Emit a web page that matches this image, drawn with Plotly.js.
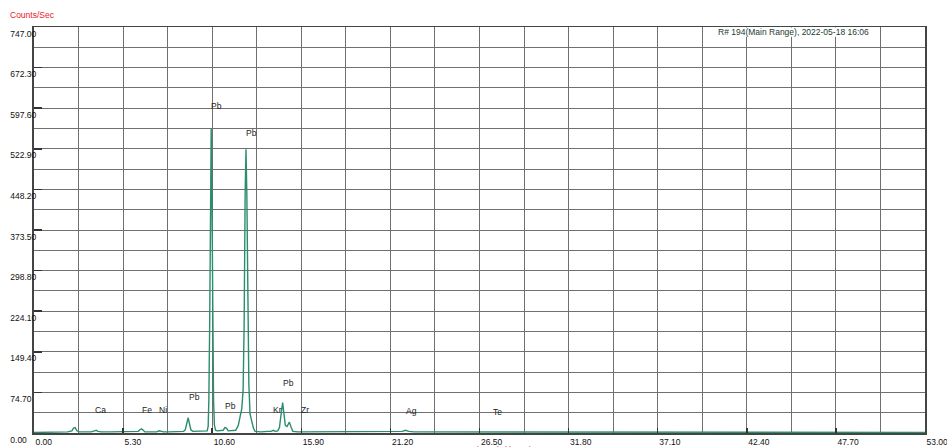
<!DOCTYPE html>
<html>
<head>
<meta charset="utf-8">
<script src="https://cdn.plot.ly/plotly-3.0.1.min.js"></script>
<style>html,body{margin:0;padding:0;background:#fff;}#chart{width:947px;height:447px;}</style>
</head>
<body>
<div id="chart"></div>
<script>
// Spectrum: energy (keV) and intensity (counts/sec)
const energy = [0, 0.5, 1.0, 1.5, 2.0, 2.25, 2.35, 2.45, 2.55, 2.7, 3.0, 3.4, 3.6, 3.7, 3.8, 4.0, 4.5, 5.0, 5.5, 5.9,
  6.2, 6.3, 6.4, 6.5, 6.6, 7.0, 7.3, 7.45, 7.55, 7.7, 8.0, 8.5, 8.9, 9.0, 9.08, 9.17, 9.25, 9.33, 9.45, 9.8,
  10.1, 10.3, 10.36, 10.40, 10.45, 10.50, 10.54, 10.58, 10.63, 10.68, 10.73, 10.80, 10.9, 11.1, 11.25, 11.35, 11.45, 11.55, 11.8,
  12.0, 12.15, 12.28, 12.36, 12.44, 12.50, 12.56, 12.61, 12.66, 12.72, 12.78, 12.85, 12.95, 13.05, 13.15, 13.5, 13.9,
  14.1, 14.24, 14.35, 14.5, 14.6, 14.7, 14.79, 14.87, 14.95, 15.05, 15.19, 15.3, 15.4, 15.7,
  16.5, 17.5, 18.5, 19.5, 20.5, 21.5, 21.9, 22.1, 22.3, 22.6, 23.5, 24.5, 25.5, 27.0, 28.5, 30, 31.5, 33, 35, 38, 41, 44, 47, 50, 53];
const counts = [1, 1, 2, 2, 2, 4, 9, 10, 4, 2, 2, 2, 4, 5, 3, 2, 2, 2, 2, 2,
  3, 6, 7.5, 5, 2, 2, 2, 4, 3, 2, 2, 2, 3, 6, 15, 28, 17, 6, 3, 3,
  3, 4, 12, 60, 200, 450, 560, 450, 200, 60, 15, 5, 4, 4, 5, 10, 9, 4, 4,
  5, 14, 38, 45, 80, 200, 440, 522, 440, 220, 90, 35, 22, 9, 3, 2, 3,
  3, 5, 3, 4, 10, 35, 56, 35, 14, 12, 20, 10, 3, 2,
  2, 2, 2, 2, 2, 2, 3, 5, 3, 2, 2, 2, 2, 2, 2, 2, 2, 2, 2, 1, 1, 1, 1, 1, 1];

// Element labels
const peakNames = ["Ca", "Fe", "Ni", "Pb", "Pb", "Pb", "Pb", "Kr", "Pb", "Zr", "Ag", "Te"];
const peakLabelX = [3.96, 6.70, 7.69, 9.54, 10.87, 11.70, 12.95, 14.49, 15.11, 16.12, 22.45, 27.57];
const peakLabelY = [42, 42, 42, 67, 602, 49, 552, 43, 92, 42, 40, 39];

// Ticks
const xTickVals = [0, 5.3, 10.6, 15.9, 21.2, 26.5, 31.8, 37.1, 42.4, 47.7, 53];
const xTickText = ["0.00", "5.30", "10.60", "15.90", "21.20", "26.50", "31.80", "37.10", "42.40", "47.70", "53.00"];
const yTickVals = [0, 74.7, 149.4, 224.1, 298.8, 373.5, 448.2, 522.9, 597.6, 672.3, 747];
const yTickText = ["0.00", "74.70", "149.40", "224.10", "298.80", "373.50", "448.20", "522.90", "597.60", "672.30", "747.00"];

const yTitle = "Counts/Sec";
const xTitle = "(\u2014\u2014 keV \u2014\u2014)";
const headerText = "R# 194(Main Range), 2022-05-18 16:06";

const FONT = "Liberation Sans, Arial, sans-serif";

const trace = {
  x: energy, y: counts, type: "scatter", mode: "lines",
  line: {color: "#2b8c6e", width: 1.4},
  hoverinfo: "skip"
};

const annotations = peakNames.map((t, i) => ({
  x: peakLabelX[i], y: peakLabelY[i], xref: "x", yref: "y",
  text: t, showarrow: false,
  font: {family: FONT, size: 8.5, color: "#222"}
}));

annotations.push({
  xref: "paper", yref: "paper", x: -0.029, y: 1.029, xanchor: "left", yanchor: "middle",
  text: yTitle, showarrow: false, font: {family: FONT, size: 8.5, color: "#e8202a"}
});
annotations.push({
  xref: "paper", yref: "paper", x: 0.528, y: -0.039, xanchor: "center", yanchor: "middle",
  text: xTitle, showarrow: false, font: {family: FONT, size: 8, color: "#e8202a"}
});
annotations.push({
  xref: "paper", yref: "paper", x: 0.852, y: 0.988, xanchor: "center", yanchor: "middle",
  text: headerText, showarrow: false, font: {family: FONT, size: 8.5, color: "#1d3a30"}
});

const layout = {
  width: 947, height: 447,
  margin: {l: 34, r: 22, t: 27, b: 14, pad: 0},
  paper_bgcolor: "#fff", plot_bgcolor: "#fff",
  showlegend: false,
  font: {family: FONT, size: 8.5, color: "#111"},
  xaxis: {
    range: [0, 53], tickmode: "array", tickvals: xTickVals, ticktext: xTickText,
    showgrid: true, gridcolor: "#707070", gridwidth: 1,
    minor: {tickmode: "linear", tick0: 0, dtick: 2.65, showgrid: true, gridcolor: "#707070", gridwidth: 1, ticks: ""},
    ticks: "inside", ticklen: 5, tickwidth: 1.5, tickcolor: "#333",
    showline: true, linecolor: "#444", linewidth: 1.5, mirror: true,
    zeroline: false, ticklabelposition: "outside right", ticklabeloverflow: "allow",
    tickfont: {family: FONT, size: 8.5, color: "#111"}
  },
  yaxis: {
    range: [0, 747], tickmode: "array", tickvals: yTickVals, ticktext: yTickText,
    showgrid: true, gridcolor: "#707070", gridwidth: 1,
    minor: {tickmode: "linear", tick0: 0, dtick: 37.35, showgrid: true, gridcolor: "#707070", gridwidth: 1, ticks: ""},
    ticks: "inside", ticklen: 8, tickwidth: 1.5, tickcolor: "#333",
    showline: true, linecolor: "#444", linewidth: 2, mirror: true,
    zeroline: false, ticklabelposition: "inside bottom", ticklabelstandoff: -26, ticklabeloverflow: "allow",
    tickfont: {family: FONT, size: 8.5, color: "#111"}
  },
  shapes: [{
    type: "rect", xref: "paper", yref: "paper", layer: "above",
    x0: 0.756, x1: 0.949, y0: 0.976, y1: 0.999,
    fillcolor: "#fff", line: {width: 0}
  }],
  annotations: annotations
};

Plotly.newPlot("chart", [trace], layout, {displayModeBar: false, staticPlot: true});
</script>
</body>
</html>
